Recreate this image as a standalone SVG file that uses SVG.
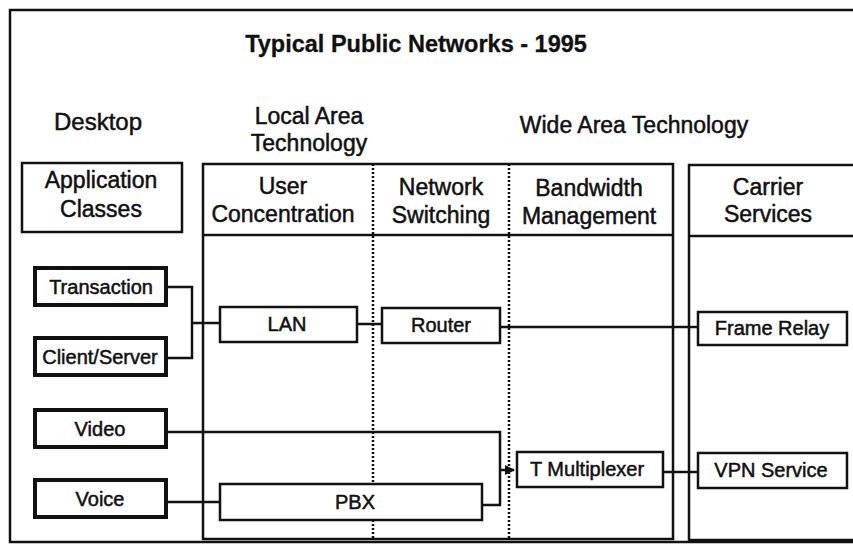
<svg xmlns="http://www.w3.org/2000/svg" width="853" height="546" viewBox="0 0 853 546">
<defs>
<style>
text{font-family:"Liberation Sans",Arial,sans-serif;fill:#111;text-anchor:middle;stroke:#111;stroke-width:0.5}
.title{font-size:23.5px;font-weight:bold;stroke-width:0.3}
.hdr{font-size:23px}
.lbl{font-size:20px}
.frame{fill:none;stroke:#111;stroke-width:2.5}
.app{fill:#fff;stroke:#111;stroke-width:4}
.node{fill:#fff;stroke:#111;stroke-width:2.5}
.dash{stroke:#111;stroke-width:2.5;stroke-dasharray:2 2;fill:none}
.conn{fill:none;stroke:#111;stroke-width:2.5}
</style>
<marker id="arr" viewBox="0 0 10 10" refX="9" refY="5" markerWidth="4" markerHeight="4" orient="auto">
<path d="M0,0 L10,5 L0,10 z" fill="#111"/>
</marker>
</defs>
<rect width="853" height="546" fill="#fff"/>
<g id="frame">
<path class="frame" d="M860,10 L10,10 L10,542 L860,542"/>
</g>
<g id="headings">
<text class="title" x="416" y="52">Typical Public Networks - 1995</text>
<text class="hdr" x="98" y="130" style="font-size:24px">Desktop</text>
<text class="hdr" x="309" y="124">Local Area</text>
<text class="hdr" x="309" y="151">Technology</text>
<text class="hdr" x="634" y="133">Wide Area Technology</text>
</g>
<g id="application-classes">
<rect class="frame" x="22" y="163" width="160" height="69"/>
<text class="hdr" x="101" y="188">Application</text>
<text class="hdr" x="101" y="217">Classes</text>
</g>
<g id="wide-area-box">
<rect class="frame" x="203" y="164" width="470" height="375"/>
<line class="frame" x1="203" y1="235" x2="673" y2="235"/>
<line class="dash" x1="373" y1="164" x2="373" y2="539"/>
<line class="dash" x1="509" y1="164" x2="509" y2="539"/>
<text class="hdr" x="283" y="194">User</text>
<text class="hdr" x="283" y="222">Concentration</text>
<text class="hdr" x="441" y="195">Network</text>
<text class="hdr" x="441" y="223">Switching</text>
<text class="hdr" x="589" y="196">Bandwidth</text>
<text class="hdr" x="589" y="224">Management</text>
</g>
<g id="carrier-box">
<path class="frame" d="M860,165 L689,165 L689,540 L860,540"/>
<line class="frame" x1="689" y1="236" x2="860" y2="236"/>
<text class="hdr" x="768" y="195">Carrier</text>
<text class="hdr" x="768" y="222">Services</text>
</g>
<g id="connectors">
<polyline class="conn" points="166,287 192,287 192,358 166,358"/>
<line class="conn" x1="192" y1="323" x2="220" y2="323"/>
<line class="conn" x1="357" y1="324" x2="382" y2="324"/>
<line class="conn" x1="500" y1="327" x2="698" y2="327"/>
<polyline class="conn" points="166,432 500,432 500,505 482,505"/>
<line class="conn" x1="500" y1="470" x2="514" y2="470" marker-end="url(#arr)"/>
<line class="conn" x1="663" y1="472" x2="698" y2="472"/>
<line class="conn" x1="166" y1="502" x2="220" y2="502"/>
</g>
<g id="transaction">
<rect class="app" x="35" y="268" width="131" height="37"/>
<text class="lbl" x="101" y="294">Transaction</text>
</g>
<g id="client-server">
<rect class="app" x="35" y="338" width="131" height="37"/>
<text class="lbl" x="100" y="364">Client/Server</text>
</g>
<g id="video">
<rect class="app" x="35" y="410" width="131" height="37"/>
<text class="lbl" x="100" y="436">Video</text>
</g>
<g id="voice">
<rect class="app" x="35" y="480" width="131" height="37"/>
<text class="lbl" x="100" y="506">Voice</text>
</g>
<g id="lan">
<rect class="node" x="220" y="307" width="137" height="35"/>
<text class="lbl" x="287" y="331">LAN</text>
</g>
<g id="router">
<rect class="node" x="382" y="308" width="118" height="35"/>
<text class="lbl" x="441" y="332">Router</text>
</g>
<g id="frame-relay">
<rect class="node" x="698" y="312" width="149" height="33"/>
<text class="lbl" x="772" y="335">Frame Relay</text>
</g>
<g id="t-multiplexer">
<rect class="node" x="517" y="452" width="146" height="35"/>
<text class="lbl" x="587" y="476">T Multiplexer</text>
</g>
<g id="vpn-service">
<rect class="node" x="698" y="453" width="149" height="35"/>
<text class="lbl" x="771" y="477">VPN Service</text>
</g>
<g id="pbx">
<rect class="node" x="220" y="484" width="262" height="36"/>
<text class="lbl" x="355" y="509">PBX</text>
</g>
</svg>
